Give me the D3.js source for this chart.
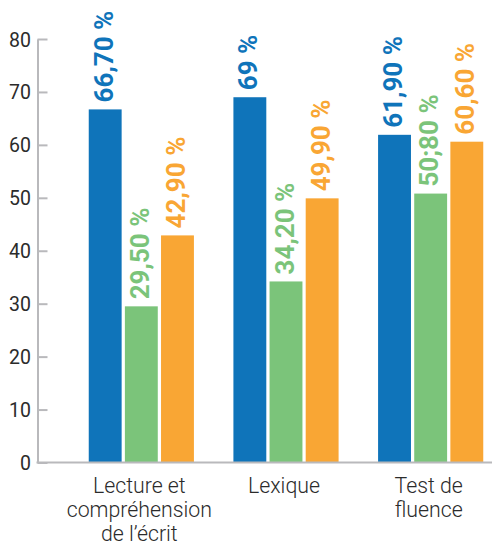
<!DOCTYPE html>
<html><head><meta charset="utf-8">
<script src="https://cdn.jsdelivr.net/npm/d3@7"></script>
<style>html,body{margin:0;padding:0;background:#fff;}svg{display:block;}</style>
</head><body>
<svg id="chart" width="492" height="548"></svg>
<script>
const categories = [["Lecture et","compréhension","de l’écrit"],["Lexique"],["Test de","fluence"]];
const categoryKeys = ["lecture","lexique","fluence"];
const seriesKeys = ["s1","s2","s3"];
const seriesColors = ["#0f74ba","#7bc47a","#f9a634"];
const values = [[66.7,29.5,42.9],[69,34.2,49.9],[61.9,50.8,60.6]];
const valueLabels = [["66,70 %","29,50 %","42,90 %"],["69 %","34,20 %","49,90 %"],["61,90 %","50;80 %","60,60 %"]];
const yTicks = [0,10,20,30,40,50,60,70,80];

const svg = d3.select("#chart");
const y = d3.scaleLinear().domain([0,80]).range([462.5,39]);
const x0 = d3.scaleBand().domain(categoryKeys).range([69,503]).paddingInner(0.273).paddingOuter(0.1365);
const x1 = d3.scaleBand().domain(seriesKeys).range([0,x0.bandwidth()]).paddingInner(0.09);
const color = d3.scaleOrdinal().domain(seriesKeys).range(seriesColors);

const axisColor = "#b9b9bc";
// y axis
const yAxis = d3.axisLeft(y).tickValues(yTicks).tickSize(-10).tickSizeOuter(0).tickPadding(6.5);
const ga = svg.append("g").attr("transform","translate(37.5,0)").call(yAxis);
ga.select(".domain").attr("stroke",axisColor).attr("stroke-width",2);
ga.selectAll(".tick line").attr("stroke",axisColor).attr("stroke-width",2);
ga.selectAll(".tick text").attr("font-family","Roboto").attr("font-size",19.5).attr("font-weight",400).attr("fill","#2b2b2b").attr("dy","0.36em");

// groups
const groups = svg.append("g").selectAll("g").data(categoryKeys).join("g")
  .attr("transform",d=>`translate(${x0(d)},0)`);
groups.each(function(cat,ci){
  const g = d3.select(this);
  seriesKeys.forEach((s,si)=>{
    const v = values[ci][si];
    g.append("rect").attr("x",x1(s)).attr("width",x1.bandwidth())
      .attr("y",y(v)).attr("height",y(0)-y(v)).attr("fill",color(s));
    const cx = x1(s)+x1.bandwidth()/2 - 1.5;
    g.append("text").attr("transform",`translate(${cx},${y(v)-7}) rotate(-90)`)
      .attr("dy","0.35em").attr("text-anchor","start")
      .attr("font-family","Roboto").attr("font-weight",700).attr("font-size",26)
      .attr("fill",color(s)).text(valueLabels[ci][si]);
  });
});

// baseline
svg.append("line").attr("x1",36.5).attr("x2",492).attr("y1",y(0)).attr("y2",y(0))
  .attr("stroke",axisColor).attr("stroke-width",2);

// category labels
categoryKeys.forEach((k,i)=>{
  const t = svg.append("text").attr("text-anchor","middle")
    .attr("font-family","Roboto").attr("font-weight",300).attr("font-size",21.3).attr("fill","#2b2b2b");
  categories[i].forEach((line,li)=>{
    t.append("tspan").attr("x",x0(k)+x0.bandwidth()/2-2).attr("y",492.5+li*24.3).text(line);
  });
});
</script>
</body></html>
